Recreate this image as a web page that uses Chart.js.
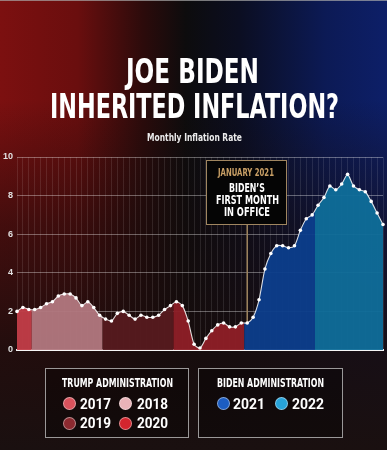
<!DOCTYPE html>
<html>
<head>
<meta charset="utf-8">
<script src="https://cdn.jsdelivr.net/npm/chart.js@4/dist/chart.umd.min.js"></script>
<style>
  html, body { margin: 0; padding: 0; }
  body {
    width: 387px; height: 450px; overflow: hidden; position: relative;
    background:
      linear-gradient(to bottom, rgba(18,10,10,0) 0%, rgba(18,10,10,0) 22%, rgba(20,11,11,0.55) 50%, rgba(24,13,13,0.9) 78%, rgba(26,16,16,1) 100%),
      linear-gradient(to right, #7c1010 0%, #6a0e0e 20%, #2c0b0b 37%, #0d0c0d 48%, #0b0e22 62%, #0c1a55 84%, #0d1f68 100%);
  }
  #topline { position:absolute; left:0; top:0; width:387px; height:1px; background:rgba(170,170,170,0.7); }
  canvas { position:absolute; left:0; top:0; }
  .box { position:absolute; box-sizing:border-box; }
  .dot { position:absolute; width:13px; height:13px; border-radius:50%; box-sizing:border-box; border:1px solid rgba(255,255,255,0.45); }
</style>
</head>
<body>
<div id="topline"></div>
<canvas id="c" width="387" height="450"></canvas>
<div class="box" style="left:206px;top:160px;width:81px;height:65px;background:#050505;border:1.5px solid #a08660;"></div>
<div class="box" style="left:45px;top:368px;width:144px;height:70px;background:rgba(0,0,0,0.3);border:1.5px solid rgba(200,200,200,0.75);"></div>
<div class="box" style="left:198px;top:368px;width:145px;height:70px;background:rgba(0,0,0,0.3);border:1.5px solid rgba(200,200,200,0.75);"></div>
<div id="texts"></div>
<script>
// ---- data ----
const monthNames = ['Jan','Feb','Mar','Apr','May','Jun','Jul','Aug','Sep','Oct','Nov','Dec'];
const years = ['2017','2018','2019','2020','2021','2022'];
const v2017 = [2.0, 2.2, 2.1];                 // Oct–Dec 2017
const v2018 = [2.1, 2.2, 2.4, 2.5, 2.8, 2.9, 2.9, 2.7, 2.3, 2.5, 2.2, 1.8];
const v2019 = [1.6, 1.5, 1.9, 2.0, 1.8, 1.6, 1.8, 1.7, 1.7, 1.8, 2.1, 2.3];
const v2020 = [2.5, 2.3, 1.5, 0.3, 0.1, 0.6, 1.0, 1.3, 1.4, 1.2, 1.2, 1.4];
const v2021 = [1.4, 1.7, 2.6, 4.2, 5.0, 5.4, 5.4, 5.3, 5.4, 6.2, 6.8, 7.0];
const v2022 = [7.5, 7.9, 8.5, 8.3, 8.6, 9.1, 8.5, 8.3, 8.2, 7.7, 7.1, 6.5];
const yearValues = [v2017, v2018, v2019, v2020, v2021, v2022];
const yTicks = [0, 2, 4, 6, 8, 10];
const fillColors = ['rgba(194,61,72,0.95)','rgba(178,120,128,0.95)','rgba(86,26,31,0.95)','rgba(142,31,39,0.95)','rgba(12,62,140,0.95)','rgba(15,110,154,0.95)'];
const dotColors = ['#d9525c','#e9b3b8','#8c2a30','#d3252e','#1c5dc2','#27a3da'];
const markerLabel = 'Jan 2021';

// labels built from the year arrays
const labels = [];
yearValues.forEach((arr, k) => {
  const startMonth = 12 - arr.length;
  arr.forEach((_, i) => labels.push(monthNames[startMonth + i] + ' ' + years[k]));
});
const inflation = [].concat(...yearValues);

const condensed = '"Liberation Sans Narrow","DejaVu Sans Condensed","Roboto Condensed","Liberation Sans",sans-serif';

// fill each year's band under the line, split halfway between months
const yearFill = {
  id: 'yearFill',
  beforeDatasetsDraw(chart) {
    const meta = chart.getDatasetMeta(0);
    const line = meta.dataset, pts = meta.data;
    const a = chart.chartArea, ctx = chart.ctx;
    const y0 = chart.scales.y.getPixelForValue(0);
    line.updateControlPoints(a, 'x');
    let start = 0;
    yearValues.forEach((arr, k) => {
      const end = start + arr.length - 1;
      const left = k === 0 ? a.left : (pts[start - 1].x + pts[start].x) / 2;
      const right = k === yearValues.length - 1 ? a.right : (pts[end].x + pts[end + 1].x) / 2;
      ctx.save();
      ctx.beginPath();
      ctx.rect(left, a.top - 5, right - left, a.bottom - a.top + 5);
      ctx.clip();
      ctx.beginPath();
      line.path(ctx);
      ctx.lineTo(pts[pts.length - 1].x, y0);
      ctx.lineTo(a.right, y0);
      ctx.lineTo(a.right, pts[pts.length - 1].y);
      ctx.lineTo(pts[pts.length - 1].x, pts[pts.length - 1].y);
      ctx.lineTo(pts[pts.length - 1].x, y0);
      ctx.lineTo(pts[0].x, y0);
      ctx.closePath();
      ctx.fillStyle = fillColors[k];
      ctx.fill();
      ctx.restore();
      start += arr.length;
    });
    // connector from annotation box to Biden's first month
    const idx = labels.indexOf(markerLabel);
    const p = pts[idx];
    ctx.save();
    ctx.strokeStyle = '#a08660';
    ctx.lineWidth = 1.5;
    ctx.beginPath();
    ctx.moveTo(p.x, 225);
    ctx.lineTo(p.x, p.y);
    ctx.stroke();
    ctx.restore();
  }
};

new Chart(document.getElementById('c'), {
  type: 'line',
  data: {
    labels,
    datasets: [{
      data: inflation,
      borderColor: 'rgba(255,255,255,0.85)',
      borderWidth: 1.1,
      pointRadius: 1.8,
      pointBackgroundColor: '#ffffff',
      pointBorderWidth: 0,
      tension: 0.25,
      fill: false
    }]
  },
  options: {
    responsive: false,
    animation: false,
    events: [],
    layout: { padding: { top: 157, bottom: 100, left: 0, right: 4 } },
    plugins: { legend: { display: false }, tooltip: { enabled: false } },
    scales: {
      x: {
        z: 1,
        ticks: { display: false, autoSkip: false },
        grid: { color: 'rgba(255,255,255,0.10)', lineWidth: 1, drawTicks: false },
        border: { color: 'rgba(255,255,255,0.95)', width: 2 },
        afterFit: s => { s.height = 0; }
      },
      y: {
        z: 1,
        min: 0, max: 10,
        afterBuildTicks: s => { s.ticks = yTicks.map(v => ({ value: v })); },
        ticks: { color: '#e2e2e2', font: { family: '"Liberation Sans", Arial, sans-serif', weight: 'bold', size: 9 }, padding: 4 },
        grid: { color: 'rgba(255,255,255,0.35)', lineWidth: 1, drawTicks: false },
        border: { display: false },
        afterFit: s => { s.width = 17; }
      }
    }
  },
  plugins: [yearFill]
});

// ---- text placement ----
const holder = document.getElementById('texts');
function place(text, x0, x1, base, size, color, family, weight) {
  const d = document.createElement('div');
  d.style.cssText = `position:absolute;left:${x0}px;top:0;white-space:nowrap;font-family:${family};font-weight:${weight};font-size:${size}px;color:${color};line-height:1;transform-origin:0 0;`;
  const t = document.createElement('span');
  t.textContent = text;
  const m = document.createElement('span');
  m.style.cssText = 'display:inline-block;width:0;height:0;';
  d.appendChild(t); d.appendChild(m);
  holder.appendChild(d);
  const w = t.getBoundingClientRect().width;
  const b = m.getBoundingClientRect().top - d.getBoundingClientRect().top;
  d.style.top = (base - b) + 'px';
  d.style.transform = `scaleX(${(x1 - x0) / w})`;
}
place('JOE BIDEN', 126, 259, 83, 33, '#ffffff', condensed, 700);
place('INHERITED INFLATION?', 50, 339, 118, 33, '#ffffff', condensed, 700);
place('Monthly Inflation Rate', 147, 242, 141, 10.5, '#ececec', condensed, 700);

place('JANUARY 2021', 218, 274, 176, 11, '#c9a066', condensed, 700);
place('BIDEN\u2019S', 229, 265, 192, 12.5, '#ffffff', condensed, 700);
place('FIRST MONTH', 216, 279, 204, 12.5, '#ffffff', condensed, 700);
place('IN OFFICE', 224, 270, 216, 12.5, '#ffffff', condensed, 700);

place('TRUMP ADMINISTRATION', 62, 173, 387, 12, '#ffffff', condensed, 700);
place('BIDEN ADMINISTRATION', 217, 324, 387, 12, '#ffffff', condensed, 700);

const bold = 'Roboto,"Open Sans",sans-serif';
const legendItems = [
  { y: '2017', cx: 69,  cy: 403, x0: 80,  x1: 111, base: 409 },
  { y: '2018', cx: 125, cy: 403, x0: 137, x1: 168, base: 409 },
  { y: '2019', cx: 69,  cy: 423, x0: 80,  x1: 111, base: 428 },
  { y: '2020', cx: 125, cy: 423, x0: 137, x1: 168, base: 428 },
  { y: '2021', cx: 223, cy: 403, x0: 233, x1: 265, base: 409 },
  { y: '2022', cx: 281, cy: 403, x0: 292, x1: 324, base: 409 }
];
legendItems.forEach(it => {
  const k = years.indexOf(it.y);
  const dot = document.createElement('div');
  dot.className = 'dot';
  dot.style.left = (it.cx - 6.5) + 'px';
  dot.style.top = (it.cy - 6.5) + 'px';
  dot.style.background = dotColors[k];
  holder.appendChild(dot);
  place(it.y, it.x0, it.x1, it.base, 15, '#ffffff', bold, 700);
});
</script>
</body>
</html>
